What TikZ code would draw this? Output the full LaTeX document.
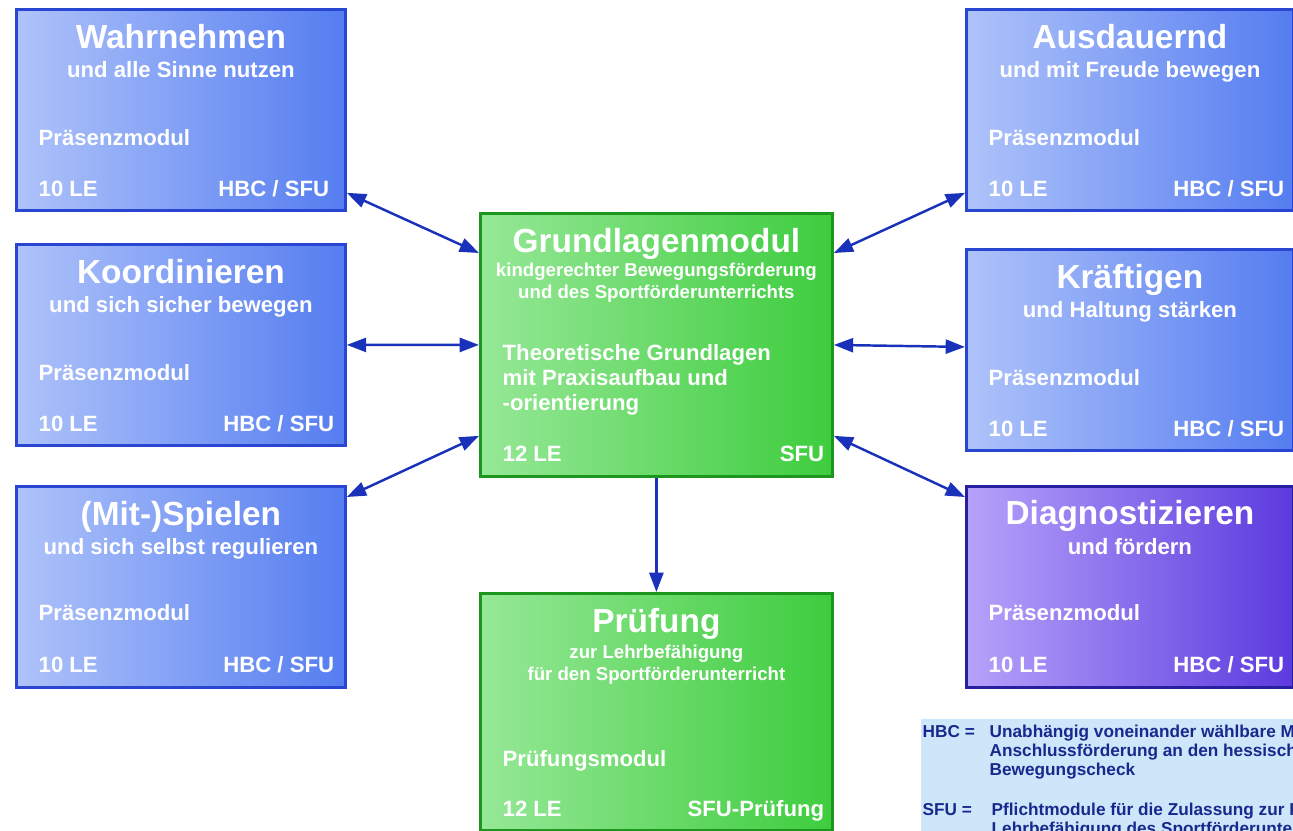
\documentclass[tikz,border=0pt]{standalone}
\usepackage{fontspec}
\setmainfont{Liberation Sans}
\usepackage{xcolor}
\usepackage{tikz}
\usetikzlibrary{arrows.meta, calc}
\definecolor{blueleft}{RGB}{175, 195, 250}
\definecolor{blueright}{RGB}{85, 125, 240}
\definecolor{blueborder}{RGB}{40, 70, 210}
\definecolor{greenleft}{RGB}{150, 232, 150}
\definecolor{greenright}{RGB}{62, 205, 62}
\definecolor{greenborder}{RGB}{28, 150, 28}
\definecolor{purpleleft}{RGB}{182, 162, 250}
\definecolor{purpleright}{RGB}{92, 58, 222}
\definecolor{purpleborder}{RGB}{40, 30, 160}
\definecolor{linkblue}{RGB}{25, 50, 185}
\definecolor{legendfill}{RGB}{205, 230, 250}
\definecolor{legendtext}{RGB}{25, 40, 140}

\tikzset{
  modbox/.style={draw, line width=0.8pt, anchor=north west, inner sep=0pt,
    minimum width=3.29cm, minimum height=2.01cm},
  bluebox/.style={modbox, draw=blueborder, left color=blueleft, right color=blueright},
  greenbox/.style={modbox, draw=greenborder, left color=greenleft, right color=greenright,
    minimum width=3.52cm},
  purplebox/.style={modbox, draw=purpleborder, left color=purpleleft, right color=purpleright},
  titletext/.style={anchor=base, inner sep=0pt, text=white, font=\fontsize{9.5}{10}\selectfont\bfseries},
  subtext/.style={anchor=base, inner sep=0pt, text=white, align=center,
    font=\fontsize{6.3}{7.5}\selectfont\bfseries},
  smalltext/.style={anchor=base, inner sep=0pt, text=white, align=center,
    font=\fontsize{5.3}{6}\selectfont\bfseries},
  bodytext/.style={anchor=base west, inner sep=0pt, text=white, align=left,
    font=\fontsize{6.3}{7.1}\selectfont\bfseries},
  tagtext/.style={anchor=base east, inner sep=0pt, text=white,
    font=\fontsize{6.3}{7.1}\selectfont\bfseries},
  legendtxt/.style={anchor=base west, inner sep=0pt, text=legendtext, align=left,
    font=\fontsize{4.9}{5.4}\selectfont\bfseries},
  link/.style={draw=linkblue, line width=0.7pt},
}

\begin{document}
\begin{tikzpicture}[>={Triangle[length=5.5pt,width=4pt]}]
  \useasboundingbox (0,0) rectangle (12.93,-8.30);
  \clip (0,0) rectangle (12.93,-8.30);

  % Module auf der linken Seite
  \node[bluebox] (wahr) at (0.15,-0.08) {};
  \node[titletext] (wahrT) at ($(wahr.north)+(0,-0.40)$) {Wahrnehmen};
  \node[subtext] (wahrS) at ($(wahr.north)+(0,-0.69)$) {und alle Sinne nutzen};
  \node[bodytext] (wahrB) at ($(wahr.north west)+(0.23,-1.37)$) {Präsenzmodul};
  \node[bodytext] (wahrL) at ($(wahr.north west)+(0.23,-1.88)$) {10 LE};
  \node[tagtext] (wahrH) at ($(wahr.north east)+(-0.17,-1.88)$) {HBC / SFU};

  \node[bluebox] (koord) at (0.15,-2.43) {};
  \node[titletext] (koordT) at ($(koord.north)+(0,-0.40)$) {Koordinieren};
  \node[subtext] (koordS) at ($(koord.north)+(0,-0.69)$) {und sich sicher bewegen};
  \node[bodytext] (koordB) at ($(koord.north west)+(0.23,-1.37)$) {Präsenzmodul};
  \node[bodytext] (koordL) at ($(koord.north west)+(0.23,-1.88)$) {10 LE};
  \node[tagtext] (koordH) at ($(koord.north east)+(-0.12,-1.88)$) {HBC / SFU};

  \node[bluebox] (spiel) at (0.15,-4.85) {};
  \node[titletext] (spielT) at ($(spiel.north)+(0,-0.40)$) {(Mit-)Spielen};
  \node[subtext] (spielS) at ($(spiel.north)+(0,-0.69)$) {und sich selbst regulieren};
  \node[bodytext] (spielB) at ($(spiel.north west)+(0.23,-1.35)$) {Präsenzmodul};
  \node[bodytext] (spielL) at ($(spiel.north west)+(0.23,-1.87)$) {10 LE};
  \node[tagtext] (spielH) at ($(spiel.north east)+(-0.12,-1.87)$) {HBC / SFU};

  % Grundlagen und Pruefung in der Mitte (Basis = letzte Zeile)
  \node[greenbox, minimum height=2.63cm] (grund) at (4.79,-2.12) {};
  \node[titletext] (grundT) at ($(grund.north)+(0,-0.40)$) {Grundlagenmodul};
  \node[smalltext] (grundS) at ($(grund.north)+(0,-0.86)$)
    {kindgerechter Bewegungsförderung\\und des Sportförderunterrichts};
  \node[bodytext] (grundB) at ($(grund.north west)+(0.23,-1.98)$)
    {Theoretische Grundlagen\\mit Praxisaufbau und\\-orientierung};
  \node[bodytext] (grundL) at ($(grund.north west)+(0.23,-2.49)$) {12 LE};
  \node[tagtext] (grundH) at ($(grund.north east)+(-0.09,-2.49)$) {SFU};

  \node[greenbox, minimum height=2.37cm] (pruef) at (4.79,-5.92) {};
  \node[titletext] (pruefT) at ($(pruef.north)+(0,-0.40)$) {Prüfung};
  \node[smalltext] (pruefS) at ($(pruef.north)+(0,-0.88)$)
    {zur Lehrbefähigung\\für den Sportförderunterricht};
  \node[bodytext] (pruefB) at ($(pruef.north west)+(0.23,-1.74)$) {Prüfungsmodul};
  \node[bodytext] (pruefL) at ($(pruef.north west)+(0.23,-2.24)$) {12 LE};
  \node[tagtext] (pruefH) at ($(pruef.north east)+(-0.09,-2.24)$) {SFU-Prüfung};

  % Module auf der rechten Seite
  \node[bluebox, minimum width=3.27cm] (ausd) at (9.65,-0.08) {};
  \node[titletext] (ausdT) at ($(ausd.north)+(0,-0.40)$) {Ausdauernd};
  \node[subtext] (ausdS) at ($(ausd.north)+(0,-0.69)$) {und mit Freude bewegen};
  \node[bodytext] (ausdB) at ($(ausd.north west)+(0.23,-1.37)$) {Präsenzmodul};
  \node[bodytext] (ausdL) at ($(ausd.north west)+(0.23,-1.88)$) {10 LE};
  \node[tagtext] (ausdH) at ($(ausd.north east)+(-0.10,-1.88)$) {HBC / SFU};

  \node[bluebox, minimum width=3.27cm] (kraft) at (9.65,-2.48) {};
  \node[titletext] (kraftT) at ($(kraft.north)+(0,-0.40)$) {Kräftigen};
  \node[subtext] (kraftS) at ($(kraft.north)+(0,-0.69)$) {und Haltung stärken};
  \node[bodytext] (kraftB) at ($(kraft.north west)+(0.23,-1.37)$) {Präsenzmodul};
  \node[bodytext] (kraftL) at ($(kraft.north west)+(0.23,-1.88)$) {10 LE};
  \node[tagtext] (kraftH) at ($(kraft.north east)+(-0.10,-1.88)$) {HBC / SFU};

  \node[purplebox, minimum width=3.27cm] (diag) at (9.65,-4.85) {};
  \node[titletext] (diagT) at ($(diag.north)+(0,-0.39)$) {Diagnostizieren};
  \node[subtext] (diagS) at ($(diag.north)+(0,-0.69)$) {und fördern};
  \node[bodytext] (diagB) at ($(diag.north west)+(0.23,-1.35)$) {Präsenzmodul};
  \node[bodytext] (diagL) at ($(diag.north west)+(0.23,-1.87)$) {10 LE};
  \node[tagtext] (diagH) at ($(diag.north east)+(-0.10,-1.87)$) {HBC / SFU};

  % Verbindungen
  \draw[link, <->] ($(wahr.south east)+(0,0.19)$) -- ($(grund.north west)+(0,-0.41)$);
  \draw[link, <->] (koord.east) -- (grund.west);
  \draw[link, <->] ($(spiel.north east)+(0,-0.12)$) -- ($(grund.south west)+(0,0.42)$);
  \draw[link, <->] ($(ausd.south west)+(0,0.19)$) -- ($(grund.north east)+(0,-0.41)$);
  \draw[link, <->] (grund.east) -- ($(kraft.west)+(0,0.03)$);
  \draw[link, <->] ($(diag.north west)+(0,-0.12)$) -- ($(grund.south east)+(0,0.42)$);
  \draw[link, ->] (grund.south) -- (pruef.north);

  % Legende
  \node[fill=legendfill, anchor=north west, inner sep=0pt, minimum width=3.73cm,
    minimum height=1.20cm] (legend) at (9.20,-7.18) {};
  \node[legendtxt] (hbcK) at ($(legend.north west)+(0.02,-0.19)$) {HBC =};
  \node[legendtxt] (hbcT) at ($(legend.north west)+(0.69,-0.57)$)
    {Unabhängig voneinander wählbare Module zur\\Anschlussförderung an den hessischen\\Bewegungscheck};
  \node[legendtxt] (sfuK) at ($(legend.north west)+(0.02,-0.97)$) {SFU =};
  \node[legendtxt] (sfuT) at ($(legend.north west)+(0.71,-1.16)$)
    {Pflichtmodule für die Zulassung zur Prüfung\\Lehrbefähigung des Sportförderunterrichts};
\end{tikzpicture}
\end{document}
